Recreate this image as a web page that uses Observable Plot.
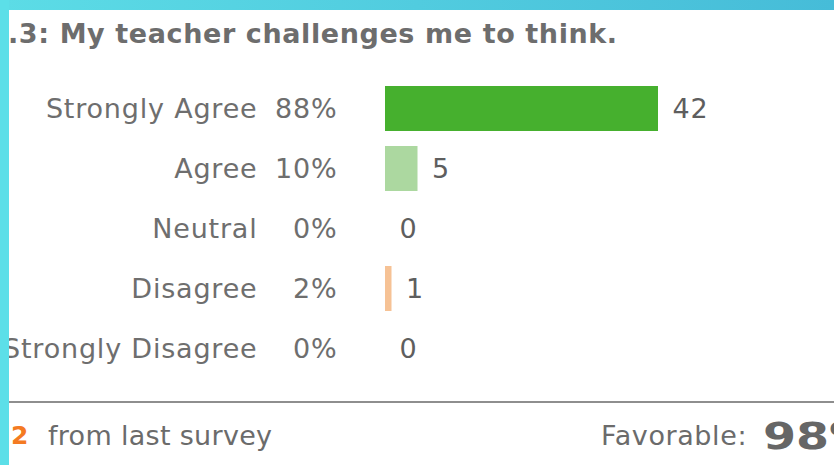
<!DOCTYPE html>
<html>
<head>
<meta charset="utf-8">
<script src="https://cdn.jsdelivr.net/npm/d3@7"></script>
<script src="https://cdn.jsdelivr.net/npm/@observablehq/plot@0.6"></script>
<style>
  html, body { margin: 0; padding: 0; background: #ffffff; }
  #page { position: relative; width: 834px; height: 465px; overflow: hidden; background: #fff; font-family: "DejaVu Sans", sans-serif; }
  #topband { position: absolute; left: 0; top: 0; width: 834px; height: 10px; background: linear-gradient(to right, #5cdce6, #46bcd8); z-index: 5; }
  #leftstrip { position: absolute; left: 0; top: 0; width: 9px; height: 465px; background: #5cdfe8; z-index: 6; }
  #title { position: absolute; left: 8px; top: 20px; font-size: 27px; line-height: 27px; letter-spacing: 0.6px; font-weight: bold; color: #6d6d6d; white-space: nowrap; }
  #chart { position: absolute; left: 0; top: 70px; }
  #chart svg { overflow: visible; }
  #rule { position: absolute; left: 9px; top: 401px; width: 825px; height: 0; border-top: 2.5px solid #8e8e8e; }
  .foot { position: absolute; white-space: nowrap; line-height: 27px; }
  #delta { left: 11px; top: 422px; font-size: 25px; font-weight: bold; color: #f47a22; }
  #deltaText { left: 48px; top: 422px; font-size: 27px; letter-spacing: 0.3px; color: #6b6b6b; }
  #favLabel { left: 601px; top: 422px; font-size: 27px; letter-spacing: 0.6px; color: #6b6b6b; }
  #favValue { left: 763px; top: 417px; font-size: 38px; line-height: 38px; font-weight: bold; color: #666; transform: scaleX(1.25); transform-origin: left center; }
</style>
</head>
<body>
<div id="page">
  <div id="topband"></div>
  <div id="leftstrip"></div>
  <div id="title"></div>
  <div id="chart"></div>
  <div id="rule"></div>
  <div class="foot" id="delta"></div>
  <div class="foot" id="deltaText"></div>
  <div class="foot" id="favLabel"></div>
  <div class="foot" id="favValue"></div>
</div>
<script>
const titleText = ".3: My teacher challenges me to think.";
const categories = ["Strongly Agree", "Agree", "Neutral", "Disagree", "Strongly Disagree"];
const percents = ["88%", "10%", "0%", "2%", "0%"];
const counts = [42, 5, 0, 1, 0];
const barColors = ["#46b02e", "#acd8a0", "#c8c8c8", "#f6c295", "#f08a4b"];
const changeValue = "2";
const changeText = "from last survey";
const favorableLabel = "Favorable:";
const favorableValue = "98%";

document.getElementById("title").textContent = titleText;
document.getElementById("delta").textContent = changeValue;
document.getElementById("deltaText").textContent = changeText;
document.getElementById("favLabel").textContent = favorableLabel;
document.getElementById("favValue").textContent = favorableValue;

const data = categories.map((c, i) => ({cat: c, pct: percents[i], count: counts[i]}));

const chart = Plot.plot({
  width: 834,
  height: 310,
  marginTop: 8,
  marginBottom: 2,
  marginLeft: 0,
  marginRight: 0,
  style: {fontFamily: "DejaVu Sans, sans-serif", background: "transparent", overflow: "visible", letterSpacing: "0.8px"},
  x: {domain: [0, 42], range: [385, 658], axis: null},
  y: {domain: categories, paddingInner: 0.25, paddingOuter: 0.125, axis: null},
  color: {domain: categories, range: barColors},
  marks: [
    Plot.barX(data, {x: "count", y: "cat", fill: "cat"}),
    Plot.text(data, {y: "cat", text: "cat", frameAnchor: "left", textAnchor: "end", dx: 257, fontSize: 27, fill: "#6e6e6e"}),
    Plot.text(data, {y: "cat", text: "pct", frameAnchor: "left", textAnchor: "end", dx: 337, fontSize: 27, fill: "#6e6e6e"}),
    Plot.text(data, {x: "count", y: "cat", text: d => String(d.count), textAnchor: "start", dx: 14, fontSize: 27, fill: "#5e5e5e"})
  ]
});
document.getElementById("chart").appendChild(chart);
</script>
</body>
</html>
